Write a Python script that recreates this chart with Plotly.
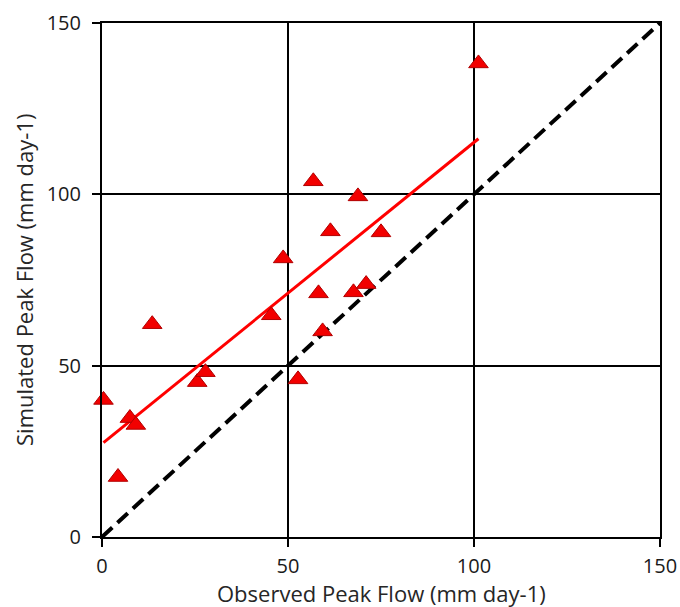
import numpy as np
import plotly.graph_objects as go

observed = [0.4, 4.3, 7.5, 9.1, 13.5, 25.6, 27.8, 45.5, 48.7, 52.7, 56.8, 58.2, 59.3, 61.4, 67.6, 71.0, 68.8, 75.0, 101.2]
simulated = [40.0, 17.5, 34.7, 32.7, 62.1, 45.2, 48.1, 64.7, 81.3, 46.0, 103.8, 71.1, 60.0, 89.2, 71.4, 73.8, 99.4, 88.9, 138.2]
one_to_one = [0, 150]
tick_vals = [0, 50, 100, 150]

slope, intercept = np.polyfit(observed, simulated, 1)
tx = [min(observed), max(observed)]
ty = [intercept + slope * v for v in tx]

fig = go.Figure()
fig.add_trace(go.Scatter(x=one_to_one, y=one_to_one, mode="lines", cliponaxis=False,
                         line=dict(color="black", width=4, dash="14px,7px"), showlegend=False))
fig.add_trace(go.Scatter(x=tx, y=ty, mode="lines",
                         line=dict(color="#ff0000", width=3), showlegend=False))
fig.add_trace(go.Scatter(x=observed, y=simulated, mode="markers", cliponaxis=False,
                         marker=dict(symbol="triangle-up", size=17, color="#f20000",
                                     line=dict(color="#b00000", width=1)),
                         showlegend=False))

font = "Open Sans, Noto Sans, sans-serif"
axis_common = dict(range=[0, 150], tickvals=tick_vals, showgrid=True, gridcolor="black",
                   gridwidth=2, showline=True, linecolor="black", linewidth=2, mirror=True,
                   ticks="outside", ticklen=8, tickwidth=2, tickcolor="black",
                   tickfont=dict(size=20, color="#1a1a1a", family=font), zeroline=False,
                   automargin=False)
fig.update_xaxes(**axis_common, ticklabelstandoff=2)
fig.update_yaxes(**axis_common, ticklabelstandoff=7)
fig.update_layout(width=680, height=607, margin=dict(l=102, r=20, t=23, b=70),
                  plot_bgcolor="white", paper_bgcolor="white",
                  annotations=[
                      dict(text="Observed Peak Flow (mm day-1)", xref="paper", yref="paper",
                           x=0.5, y=-0.109, xanchor="center", yanchor="middle", showarrow=False,
                           font=dict(size=22, color="#262626", family=font)),
                      dict(text="Simulated Peak Flow (mm day-1)", xref="paper", yref="paper",
                           x=-0.1398, y=0.5, xanchor="center", yanchor="middle", showarrow=False,
                           textangle=-90, font=dict(size=22, color="#262626", family=font)),
                  ])
fig.write_html("out.html", config={"displayModeBar": False},
               post_script="document.body.style.margin='0';document.body.style.overflow='hidden';")
